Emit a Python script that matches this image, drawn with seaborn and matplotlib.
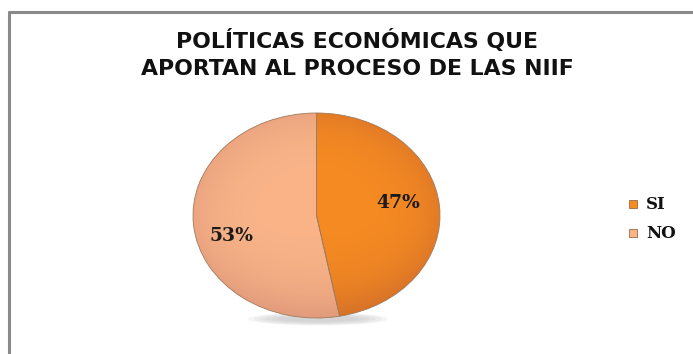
import numpy as np
import matplotlib
matplotlib.use("Agg")
import matplotlib.pyplot as plt
import seaborn as sns
from matplotlib.patches import Ellipse, Rectangle
from matplotlib.lines import Line2D

sns.set_theme(style="white")
plt.rcParams["font.family"] = ["DejaVu Sans"]

# Survey answers
categories = ["SI", "NO"]
shares = [47, 53]
pct_labels = ["47%", "53%"]
title_text = "POLÍTICAS ECONÓMICAS QUE\nAPORTAN AL PROCESO DE LAS NIIF"

base_colors = ["#F68B22", "#FAB488"]
dark_colors = ["#D06C2A", "#DD9679"]

W, H = 693, 354
fig = plt.figure(figsize=(W / 100, H / 100), dpi=100)
fig.patch.set_facecolor("white")

# chart frame (only top and left edges visible)
frame = fig.add_axes([0, 0, 1, 1])
frame.set_xlim(0, W)
frame.set_ylim(H, 0)
frame.axis("off")
frame.add_line(Line2D([9, W], [12, 12], color="#8a8a8a", lw=2.2))
frame.add_line(Line2D([9, 9], [12, H], color="#8a8a8a", lw=2.2))

fig.text(357 / W, 1 - 54 / H, title_text, ha="center", va="center",
         fontsize=15.8, fontweight="bold", color="#111111", linespacing=1.42)

# soft shadow under the pie
for i, a in enumerate(np.linspace(0.06, 0.025, 6)):
    frame.add_patch(Ellipse((318, 319), 140 - i * 12, 13 - i * 1.5,
                            color="#555555", alpha=a, lw=0))

left, top, pw, ph = 193, 113, 247, 205
ax = fig.add_axes([left / W, 1 - (top + ph) / H, pw / W, ph / H])
wedges, _ = ax.pie(shares, startangle=90, counterclock=False, radius=1,
                   colors=base_colors,
                   wedgeprops=dict(edgecolor="#a07a5c", linewidth=0.6))

# shading inside each slice: darker towards the rim and the lower part
yy, xx = np.mgrid[-1:1:300j, -1:1:300j]
rr = np.sqrt(xx ** 2 + yy ** 2)
shade = np.clip(0.5 * rr ** 4 + 0.35 * np.clip(-yy, 0, 1) ** 1.5, 0, 1)
for w, c0, c1 in zip(wedges, base_colors, dark_colors):
    a = np.array(matplotlib.colors.to_rgb(c0))
    b = np.array(matplotlib.colors.to_rgb(c1))
    img = a[None, None, :] * (1 - shade[..., None]) + b[None, None, :] * shade[..., None]
    im = ax.imshow(img, extent=(-1, 1, -1, 1), origin="lower", zorder=0.5,
                   interpolation="bilinear", aspect="auto")
    im.set_clip_path(w)
    w.set_facecolor("none")
    w.set_zorder(1)

ax.set_aspect("auto")
ax.set_xlim(-1, 1)
ax.set_ylim(-1, 1)
ax.axis("off")

label_pos = [(0.66, 0.12), (-0.69, -0.20)]
for (x, y), t in zip(label_pos, pct_labels):
    ax.text(x, y, t, ha="center", va="center", fontsize=13.5,
            fontweight="bold", color="#1a1a1a",
            family=["DejaVu Serif"], zorder=3)

# legend
for y, c, name in zip([204, 233], base_colors, categories):
    frame.add_patch(Rectangle((629, y - 4), 8, 8, facecolor=c,
                              edgecolor="#9a6a45", lw=0.6))
    frame.text(646, y + 0.5, name, ha="left", va="center", fontsize=12,
               fontweight="bold", color="#111111", family=["DejaVu Serif"])

fig.savefig("out.png", dpi=100, facecolor="white")
